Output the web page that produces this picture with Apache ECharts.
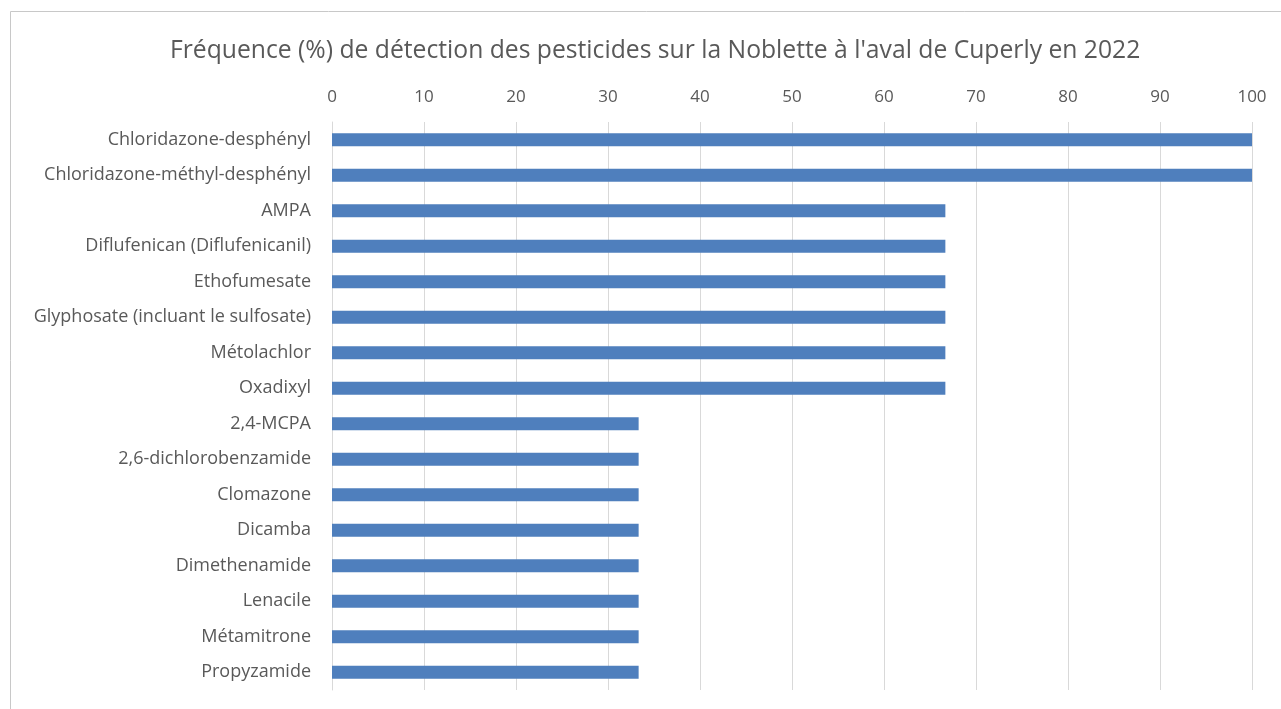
<!DOCTYPE html>
<html>
<head>
<meta charset="utf-8">
<script src="https://cdn.jsdelivr.net/npm/echarts@6/dist/echarts.min.js"></script>
<style>
  html, body { margin: 0; padding: 0; background: #ffffff; }
  #chart { width: 1281px; height: 709px; }
</style>
</head>
<body>
<div id="chart"></div>
<script>
// Pesticides detected, listed top to bottom
const pesticides = [
  'Chloridazone-desphényl',
  'Chloridazone-méthyl-desphényl',
  'AMPA',
  'Diflufenican (Diflufenicanil)',
  'Ethofumesate',
  'Glyphosate (incluant le sulfosate)',
  'Métolachlor',
  'Oxadixyl',
  '2,4-MCPA',
  '2,6-dichlorobenzamide',
  'Clomazone',
  'Dicamba',
  'Dimethenamide',
  'Lenacile',
  'Métamitrone',
  'Propyzamide'
];
// Detection frequency (%)
const frequency = [100, 100, 66.67, 66.67, 66.67, 66.67, 66.67, 66.67,
  33.33, 33.33, 33.33, 33.33, 33.33, 33.33, 33.33, 33.33];
const titleText = "Fréquence (%) de détection des pesticides sur la Noblette à l'aval de Cuperly en 2022";

const chart = echarts.init(document.getElementById('chart'));
const font = "'Open Sans', sans-serif";
chart.setOption({
  backgroundColor: '#ffffff',
  animation: false,
  title: {
    text: titleText,
    left: 165,
    top: 33,
    textStyle: { fontFamily: font, fontSize: 24.7, fontWeight: 'normal', color: '#595959' }
  },
  graphic: [{
    type: 'rect',
    shape: { x: 10.5, y: 11.5, width: 1290, height: 720 },
    style: { fill: 'none', stroke: '#c8c8c8', lineWidth: 1 },
    silent: true
  }],
  grid: { left: 332, right: 29, top: 122, bottom: 19, containLabel: false },
  xAxis: {
    type: 'value',
    position: 'top',
    min: 0, max: 100, interval: 10,
    axisLine: { show: false },
    axisTick: { show: false },
    axisLabel: { fontFamily: font, fontSize: 17, color: '#595959', margin: 16 },
    splitLine: { lineStyle: { color: '#d9d9d9', width: 1 } }
  },
  yAxis: {
    type: 'category',
    inverse: true,
    data: pesticides,
    axisLine: { show: true, lineStyle: { color: '#d9d9d9' } },
    axisTick: { show: false },
    axisLabel: { fontFamily: font, fontSize: 18, color: '#595959', margin: 21 }
  },
  series: [{
    type: 'bar',
    data: frequency,
    barWidth: 13,
    itemStyle: { color: '#4f7fbd' }
  }]
});
</script>
</body>
</html>
